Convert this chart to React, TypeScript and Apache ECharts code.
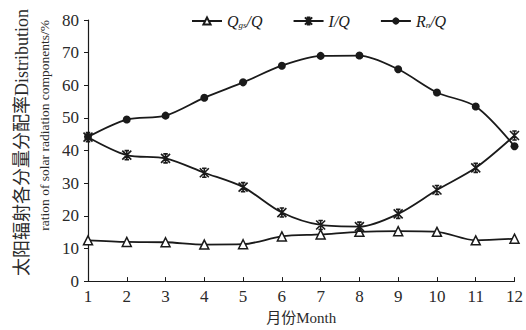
import React, { useEffect, useRef } from "react";
import * as echarts from "echarts";

const months = ["1", "2", "3", "4", "5", "6", "7", "8", "9", "10", "11", "12"];
const qgsQ = [12.5, 12.0, 11.9, 11.2, 11.3, 13.7, 14.3, 15.1, 15.3, 15.1, 12.5, 13.0];
const iQ = [44.1, 38.6, 37.6, 33.2, 28.8, 21.0, 17.2, 16.7, 20.6, 27.9, 34.7, 44.6];
const rnQ = [44.2, 49.5, 50.7, 56.2, 60.9, 66.0, 69.0, 69.1, 64.9, 57.8, 53.5, 41.3];
const yTicks = [0, 80, 10];

const SERIF = "'Liberation Serif', 'DejaVu Serif', 'Noto Sans CJK SC', serif";
const INK = "#1a1a1a";
const starPath = "path://M0,0L10,10M10,0L0,10M5,0L5,10M2.5,0L7.5,0M2.5,10L7.5,10";

export default function App() {
  const ref = useRef<HTMLDivElement>(null);
  useEffect(() => {
    if (!ref.current) return;
    const chart = echarts.init(ref.current, null, { renderer: "svg" });
    const lineStyle = { color: INK, width: 1.8 };
    chart.setOption({
      animation: false,
      backgroundColor: "#fff",
      grid: { left: 88, right: 11, top: 20, bottom: 48, containLabel: false },
      legend: {
        top: 8,
        left: 186,
        itemWidth: 30,
        itemHeight: 9,
        itemGap: 30,
        selectedMode: false,
        textStyle: {
          fontFamily: SERIF,
          fontSize: 16,
          fontStyle: "italic",
          color: INK,
          rich: {
            i: { fontFamily: SERIF, fontSize: 16, fontStyle: "italic", color: INK },
            s: { fontFamily: SERIF, fontSize: 9, fontStyle: "italic", color: INK, verticalAlign: "bottom", padding: [8, 0, 0, 0] },
          },
        },
        formatter: (name: string) => {
          if (name === "Qgs/Q") return "{i|Q}{s|gs}{i|/Q}";
          if (name === "Rn/Q") return "{i|R}{s|n}{i|/Q}";
          return "{i|I/Q}";
        },
        data: ["Qgs/Q", "I/Q", "Rn/Q"],
      },
      xAxis: {
        type: "category",
        data: months,
        boundaryGap: false,
        axisLine: { lineStyle: { color: INK, width: 1.2 } },
        axisTick: { inside: true, length: 4, lineStyle: { color: INK } },
        axisLabel: { fontFamily: SERIF, fontSize: 17, color: "#2a2a2a", margin: 7 },
        name: "月份Month",
        nameLocation: "middle",
        nameGap: 26,
        nameTextStyle: { fontFamily: SERIF, fontSize: 15, color: "#2a2a2a" },
        splitLine: { show: false },
      },
      yAxis: {
        type: "value",
        min: yTicks[0],
        max: yTicks[1],
        interval: yTicks[2],
        axisLine: { show: true, lineStyle: { color: INK, width: 1.2 } },
        axisTick: { show: true, length: 4, lineStyle: { color: INK } },
        axisLabel: { fontFamily: SERIF, fontSize: 17, color: "#2a2a2a", margin: 9 },
        splitLine: { show: false },
      },
      graphic: [
        {
          type: "text",
          x: 22,
          y: 9,
          rotation: Math.PI / 2,
          style: {
            text: "太阳辐射各分量分配率Distribution",
            fontFamily: SERIF,
            fontSize: 18,
            fill: "#2a2a2a",
            align: "right",
            verticalAlign: "middle",
          },
        },
        {
          type: "text",
          x: 44,
          y: 20,
          rotation: Math.PI / 2,
          style: {
            text: "ration of solar radiation components/%",
            fontFamily: SERIF,
            fontSize: 13.5,
            fill: "#2a2a2a",
            align: "right",
            verticalAlign: "middle",
          },
        },
      ],
      series: [
        {
          name: "Qgs/Q",
          type: "line",
          data: qgsQ,
          smooth: 0.3,
          symbol: "triangle",
          symbolSize: 9,
          lineStyle,
          itemStyle: { color: "#fff", borderColor: INK, borderWidth: 1.5 },
          z: 3,
        },
        {
          name: "I/Q",
          type: "line",
          data: iQ,
          smooth: 0.3,
          symbol: starPath,
          symbolSize: 9,
          lineStyle,
          itemStyle: { color: "none", borderColor: INK, borderWidth: 1.6 },
          z: 4,
        },
        {
          name: "Rn/Q",
          type: "line",
          data: rnQ,
          smooth: 0.3,
          symbol: "circle",
          symbolSize: 8,
          lineStyle,
          itemStyle: { color: INK, borderColor: INK, borderWidth: 0 },
          z: 5,
        },
      ],
    });
    return () => chart.dispose();
  }, []);
  return <div ref={ref} style={{ width: 526, height: 330, position: "absolute", left: 0, top: 0 }} />;
}
